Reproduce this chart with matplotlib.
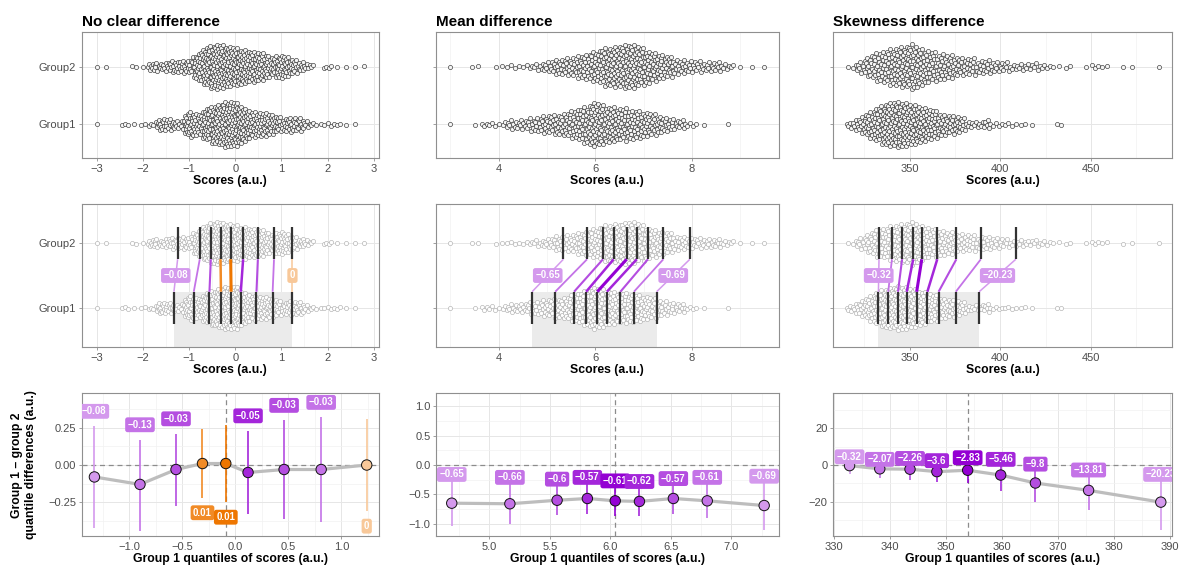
import numpy as np
import matplotlib
matplotlib.use("Agg")
import matplotlib.pyplot as plt
from matplotlib.ticker import MultipleLocator, AutoMinorLocator, FuncFormatter
from matplotlib.colors import to_rgb
from matplotlib.patches import Rectangle

plt.rcParams['font.family'] = ['Liberation Sans', 'DejaVu Sans']

# titles of the three columns
titles = ["No clear difference", "Mean difference", "Skewness difference"]

# swarm data: first bin centre, bin width, counts per bin
nc_bins = (-3.0, 0.2)
nc_g1 = [1, 0, 0, 3, 1, 2, 4, 14, 12, 8, 28, 22, 35, 42, 48, 48, 35, 26, 26, 22,
         14, 16, 14, 6, 2, 3, 3, 1, 1, 0]
nc_g2 = [1, 1, 0, 0, 2, 1, 10, 8, 12, 14, 14, 30, 42, 48, 44, 40, 36, 32, 30, 20,
         26, 18, 12, 6, 0, 4, 1, 1, 1, 1]

md_bins = (3.0, 0.25)
md_g1 = [1, 0, 1, 5, 3, 9, 10, 14, 18, 20, 26, 34, 44, 36, 32, 30, 26, 20, 14, 10,
         4, 1, 0, 1, 0, 0, 0]
md_g2 = [1, 0, 2, 0, 2, 3, 3, 6, 10, 16, 18, 24, 30, 38, 40, 44, 36, 28, 22, 14,
         12, 10, 10, 6, 1, 1, 1]

sk_bins = (317.5, 5.0)
sk_g1 = [6, 12, 20, 28, 34, 36, 36, 32, 28, 24, 18, 15, 14, 6, 5, 7, 3, 3, 2, 2,
         1, 0, 0, 2, 0, 0, 0, 0, 0, 0, 0, 0, 0, 0, 0]
sk_g2 = [2, 8, 14, 20, 22, 26, 28, 30, 24, 20, 18, 16, 13, 12, 10, 10, 8, 7, 5, 5,
         5, 4, 3, 1, 2, 0, 1, 3, 2, 0, 1, 1, 0, 0, 1]

# group 1 deciles and group1 - group2 decile differences with CIs
nc_dec = [-1.33, -0.90, -0.56, -0.31, -0.09, 0.12, 0.46, 0.81, 1.24]
nc_diff = [-0.08, -0.13, -0.03, 0.01, 0.01, -0.05, -0.03, -0.03, 0]
nc_lo = [-0.42, -0.44, -0.275, -0.22, -0.25, -0.33, -0.36, -0.385, -0.31]
nc_hi = [0.26, 0.17, 0.21, 0.24, 0.27, 0.23, 0.30, 0.32, 0.31]

md_dec = [4.69, 5.17, 5.56, 5.81, 6.04, 6.24, 6.52, 6.80, 7.27]
md_diff = [-0.65, -0.66, -0.6, -0.57, -0.61, -0.62, -0.57, -0.61, -0.69]
md_lo = [-1.04, -1.01, -0.855, -0.84, -0.87, -0.87, -0.83, -0.90, -1.11]
md_hi = [-0.26, -0.31, -0.34, -0.31, -0.37, -0.38, -0.33, -0.31, -0.29]

sk_dec = [332.8, 338.2, 343.6, 348.4, 353.9, 359.8, 366.0, 375.5, 388.4]
sk_diff = [-0.32, -2.07, -2.26, -3.6, -2.83, -5.46, -9.8, -13.81, -20.23]
sk_lo = [-5.1, -7.3, -8.2, -9.5, -10.0, -14.2, -20.4, -24.5, -35.5]
sk_hi = [1.5, 0.1, 0.6, -0.6, 1.0, 0.1, -2.5, -5.7, -8.1]

W, H = 1180, 568
fig = plt.figure(figsize=(W / 100, H / 100), dpi=100)

cols_px = [(81.7, 378.7), (436, 778.7), (833.3, 1172)]
rows_px = [(32, 158), (204, 347), (393, 536)]


def ax_at(c, r):
    l, rr = cols_px[c]
    t, b = rows_px[r]
    return fig.add_axes([l / W, 1 - b / H, (rr - l) / W, (b - t) / H])


def vdc(n):
    v, d = 0.0, 1.0
    while n:
        d *= 2
        n, rem = divmod(n, 2)
        v += rem / d
    return v


def swarm(bins, counts, y0, hh):
    start, w = bins
    counts = np.array(counts, dtype=float)
    centres = start + w * np.arange(len(counts))
    xs = []
    for c, n in zip(centres, counts.astype(int)):
        for i in range(n):
            xs.append(c - w / 2 + (i + 0.5) / n * w)
    xs = np.sort(np.array(xs))
    dens = np.interp(xs, centres, counts / counts.max())
    off = np.array([2 * vdc(k + 1) - 1 for k in range(len(xs))])
    return xs, y0 + off * hh * dens


def dec_colour(q, d):
    level = [0, 1, 2, 3, 4, 3, 2, 1, 0][q]
    a = 0.4 + 0.15 * level
    base = np.array(to_rgb('#9400D3' if d < 0 else '#EE7600'))
    return tuple(a * base + (1 - a) * np.ones(3))


def fmt_num(v):
    return f"{v:g}".replace('-', '\u2212')


def minus_fmt(f):
    return FuncFormatter(lambda v, p: (f % v).replace('-', '\u2212'))


def style(ax):
    for s in ax.spines.values():
        s.set_color('#8f8f8f')
        s.set_linewidth(0.8)
    ax.tick_params(which='major', length=2.5, width=0.6, color='#8f8f8f',
                   labelsize=8, labelcolor='#4d4d4d', pad=1.5)
    ax.tick_params(which='minor', length=0)
    ax.grid(which='major', color='#e6e6e6', lw=0.7)
    ax.grid(which='minor', color='#f2f2f2', lw=0.5)
    ax.set_axisbelow(True)


lab_kw = dict(fontsize=8.8, fontweight='bold')
box_txt = dict(color='white', fontsize=7, fontweight='bold', ha='center', va='center')

panels = [
    (nc_bins, nc_g1, nc_g2, nc_dec, nc_diff, nc_lo, nc_hi, (-3.33, 3.11), 1,
     (-1.45, 1.353), (-0.476, 0.483), 0.5, 0.25, '%.1f', '%.2f', 0.1),
    (md_bins, md_g1, md_g2, md_dec, md_diff, md_lo, md_hi, (2.70, 9.80), 2,
     (4.56, 7.39), (-1.21, 1.23), 0.5, 0.5, '%.1f', '%.1f', 0.1),
    (sk_bins, sk_g1, sk_g2, sk_dec, sk_diff, sk_lo, sk_hi, (307.9, 494.8), 50,
     (329.9, 390.4), (-38.7, 39.3), 10, 20, '%d', '%d', 3.0),
]

for c, (bins, g1, g2, dec, diff, lo, hi, xl, xstep, bxl, byl, bxs, bys,
        bxf, byf, off) in enumerate(panels):
    dec = np.array(dec)
    diff = np.array(diff)
    g2dec = dec - diff
    colours = [dec_colour(q, d) for q, d in enumerate(diff)]

    # top row: plain beeswarms
    ax = ax_at(c, 0)
    style(ax)
    for y0, counts in ((1, g1), (2, g2)):
        x, y = swarm(bins, counts, y0, 0.40)
        ax.scatter(x, y, s=9, facecolor='#f6f6f6', edgecolor='#333333',
                   linewidth=0.45, zorder=3)
    ax.set_xlim(*xl)
    ax.set_ylim(0.42, 2.6)
    ax.xaxis.set_major_locator(MultipleLocator(xstep))
    ax.xaxis.set_minor_locator(AutoMinorLocator(2))
    ax.xaxis.set_major_formatter(minus_fmt('%d'))
    ax.set_yticks([1, 2])
    ax.set_yticklabels(['Group1', 'Group2'] if c == 0 else ['', ''])
    ax.set_xlabel('Scores (a.u.)', labelpad=1, **lab_kw)
    ax.set_title(titles[c], loc='left', fontsize=11, fontweight='bold', pad=4)

    # middle row: beeswarms with deciles linked
    ax = ax_at(c, 1)
    style(ax)
    ax.add_patch(Rectangle((dec[0], -1), dec[-1] - dec[0], 2.25,
                           facecolor='#ebebeb', edgecolor='none', zorder=1))
    for y0, counts in ((1, g1), (2, g2)):
        x, y = swarm(bins, counts, y0, 0.34)
        ax.scatter(x, y, s=9, facecolor='white', edgecolor='#b0b0b0',
                   linewidth=0.45, zorder=2)
    widths = [1.1, 1.3, 1.5, 1.8, 2.2, 1.8, 1.5, 1.3, 1.1]
    for q in range(9):
        ax.plot([dec[q], g2dec[q]], [1.25, 1.75], color=colours[q], lw=widths[q],
                solid_capstyle='butt', zorder=3)
    ax.vlines(dec, 0.75, 1.25, color='#333333', lw=1.6, zorder=4)
    ax.vlines(g2dec, 1.75, 2.25, color='#333333', lw=1.6, zorder=4)
    for q in (0, 8):
        ax.text((dec[q] + g2dec[q]) / 2, 1.5, fmt_num(diff[q]), zorder=5,
                bbox=dict(boxstyle='round,pad=0.25,rounding_size=0.25',
                          fc=colours[q], ec='none'), **box_txt)
    ax.set_xlim(*xl)
    ax.set_ylim(0.4, 2.6)
    ax.xaxis.set_major_locator(MultipleLocator(xstep))
    ax.xaxis.set_minor_locator(AutoMinorLocator(2))
    ax.xaxis.set_major_formatter(minus_fmt('%d'))
    ax.set_yticks([1, 2])
    ax.set_yticklabels(['Group1', 'Group2'] if c == 0 else ['', ''])
    ax.set_xlabel('Scores (a.u.)', labelpad=1, **lab_kw)

    # bottom row: shift function
    ax = ax_at(c, 2)
    style(ax)
    ax.axhline(0, color='#8c8c8c', lw=0.9, ls=(0, (4, 3)), zorder=1)
    ax.axvline(dec[4], color='#8c8c8c', lw=0.9, ls=(0, (4, 3)), zorder=1)
    ax.plot(dec, diff, color='#bdbdbd', lw=2.3, zorder=2, solid_capstyle='round')
    ax.vlines(dec, lo, hi, colors=colours, lw=1.2, zorder=3)
    ax.scatter(dec, diff, s=56, c=colours, edgecolor='#111111', linewidth=0.7,
               zorder=4)
    for q in range(9):
        ly = hi[q] + off if diff[q] < 0 else lo[q] - off
        ax.text(dec[q], ly, fmt_num(diff[q]), zorder=5, clip_on=True,
                bbox=dict(boxstyle='round,pad=0.25,rounding_size=0.25',
                          fc=colours[q], ec='none'), **box_txt)
    ax.set_xlim(*bxl)
    ax.set_ylim(*byl)
    ax.xaxis.set_major_locator(MultipleLocator(bxs))
    ax.xaxis.set_minor_locator(AutoMinorLocator(2))
    ax.yaxis.set_major_locator(MultipleLocator(bys))
    ax.yaxis.set_minor_locator(AutoMinorLocator(2))
    ax.xaxis.set_major_formatter(minus_fmt(bxf))
    ax.yaxis.set_major_formatter(minus_fmt(byf))
    ax.set_xlabel('Group 1 quantiles of scores (a.u.)', labelpad=1, **lab_kw)

fig.text(24 / W, 1 - 465 / H, 'Group 1 \u2013 group 2\nquantile differences (a.u.)',
         rotation=90, ha='center', va='center', multialignment='center', **lab_kw)

fig.savefig('out.png', dpi=100)
